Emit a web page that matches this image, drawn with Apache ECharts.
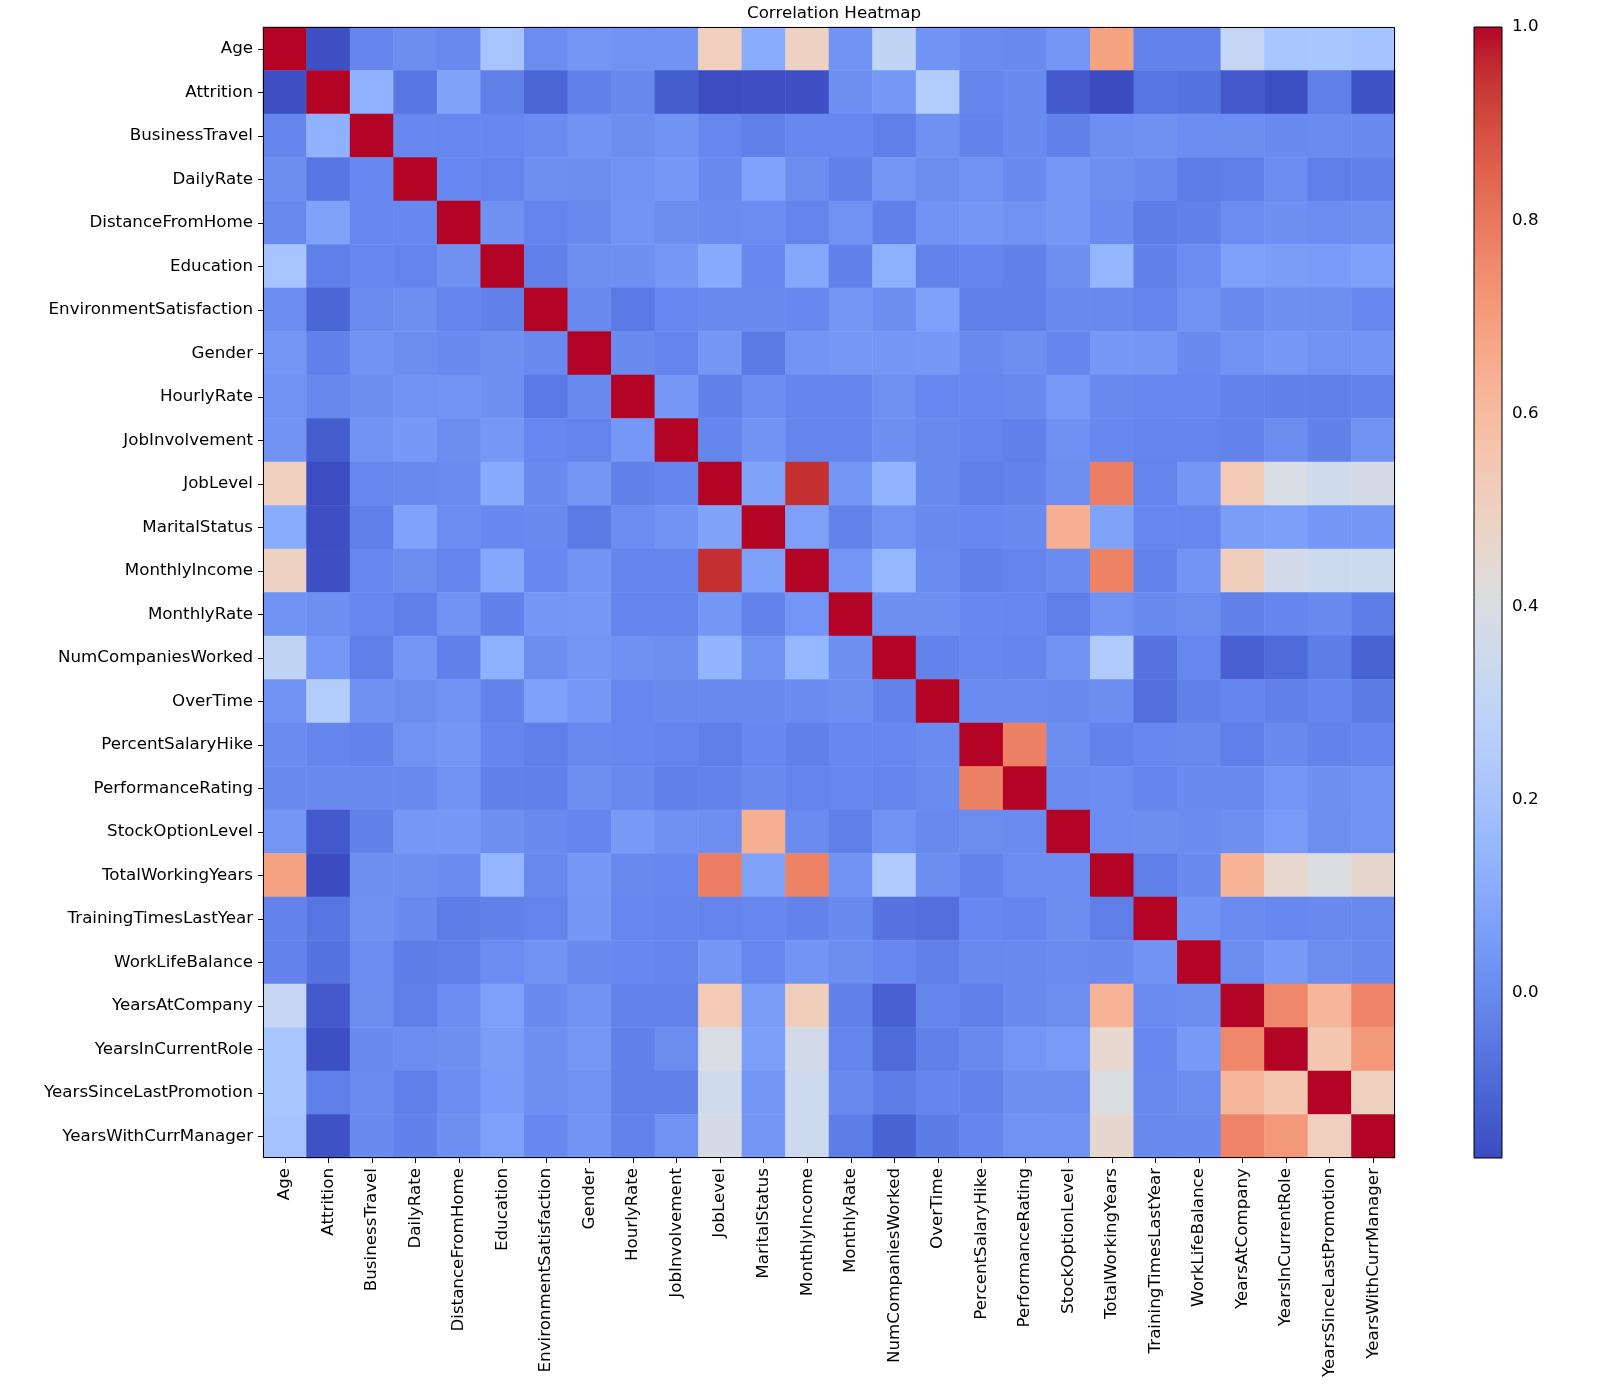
<!DOCTYPE html>
<html><head><meta charset="utf-8">
<script src="https://cdn.jsdelivr.net/npm/echarts@6/dist/echarts.min.js"></script>
<style>html,body{margin:0;padding:0;background:#fff}#chart{width:1608px;height:1396px}</style>
</head><body><div id="chart"></div>
<script>
// ---- data ----
const labels = ["Age","Attrition","BusinessTravel","DailyRate","DistanceFromHome","Education",
  "EnvironmentSatisfaction","Gender","HourlyRate","JobInvolvement","JobLevel","MaritalStatus",
  "MonthlyIncome","MonthlyRate","NumCompaniesWorked","OverTime","PercentSalaryHike",
  "PerformanceRating","StockOptionLevel","TotalWorkingYears","TrainingTimesLastYear",
  "WorkLifeBalance","YearsAtCompany","YearsInCurrentRole","YearsSinceLastPromotion","YearsWithCurrManager"];

// lower triangle of the correlation matrix (row i holds columns 0..i-1); diagonal is 1
const lowerTriangle = [
  [],
  [-0.159],
  [-0.011, 0.127],
  [0.011, -0.057, -0.005],
  [-0.002, 0.078, -0.009, -0.005],
  [0.208, -0.031, -0.008, -0.017, 0.021],
  [0.010, -0.103, 0.004, 0.018, -0.016, -0.027],
  [0.036, -0.029, 0.030, 0.011, 0.002, 0.017, 0.000],
  [0.024, -0.007, 0.012, 0.023, 0.031, 0.017, -0.050, 0.000],
  [0.030, -0.130, 0.030, 0.046, 0.009, 0.042, -0.008, -0.018, 0.043],
  [0.510, -0.169, -0.008, 0.003, 0.005, 0.102, 0.001, 0.040, -0.028, -0.013],
  [0.110, -0.162, -0.030, 0.075, 0.010, -0.005, 0.000, -0.047, 0.010, 0.030, 0.080],
  [0.498, -0.160, -0.010, 0.008, -0.017, 0.095, -0.006, 0.032, -0.016, -0.015, 0.950, 0.070],
  [0.028, 0.015, -0.010, -0.032, 0.027, -0.026, 0.038, 0.041, -0.015, -0.016, 0.040, -0.020, 0.035],
  [0.300, 0.043, -0.030, 0.038, -0.029, 0.126, 0.013, 0.039, 0.022, 0.015, 0.143, 0.025, 0.150, 0.018],
  [0.028, 0.246, 0.020, 0.009, 0.026, -0.020, 0.070, 0.042, -0.008, -0.004, 0.000, 0.000, 0.006, 0.017, -0.020],
  [0.004, -0.013, -0.020, 0.023, 0.040, -0.011, -0.032, -0.003, -0.009, -0.017, -0.035, -0.005, -0.027, -0.006, -0.010, 0.005],
  [0.002, 0.003, 0.000, 0.001, 0.027, -0.025, -0.030, 0.014, -0.002, -0.029, -0.021, 0.000, -0.017, -0.010, -0.014, 0.004, 0.774],
  [0.038, -0.137, -0.025, 0.042, 0.045, 0.018, 0.003, -0.012, 0.050, 0.022, 0.014, 0.640, 0.005, -0.034, 0.030, -0.001, 0.008, 0.004],
  [0.680, -0.171, 0.015, 0.015, 0.005, 0.148, -0.003, 0.047, -0.002, -0.006, 0.782, 0.080, 0.773, 0.026, 0.238, 0.013, -0.021, 0.007, 0.010],
  [-0.020, -0.059, 0.020, 0.003, -0.037, -0.025, -0.019, 0.038, -0.009, -0.015, -0.018, -0.010, -0.022, 0.002, -0.066, -0.079, -0.005, -0.016, 0.011, -0.036],
  [-0.021, -0.064, 0.010, -0.038, -0.027, 0.010, 0.028, 0.003, -0.005, -0.015, 0.038, -0.010, 0.031, 0.008, -0.008, -0.027, -0.003, 0.003, 0.004, 0.001, 0.028],
  [0.311, -0.134, 0.008, -0.034, 0.010, 0.069, 0.002, 0.030, -0.020, -0.021, 0.535, 0.060, 0.514, -0.024, -0.118, -0.012, -0.036, 0.003, 0.015, 0.628, 0.004, 0.012],
  [0.213, -0.161, 0.000, 0.010, 0.019, 0.060, 0.018, 0.041, -0.024, 0.009, 0.390, 0.065, 0.364, -0.013, -0.091, -0.029, -0.002, 0.035, 0.051, 0.460, -0.006, 0.050, 0.759],
  [0.217, -0.033, 0.005, -0.033, 0.010, 0.054, 0.016, 0.026, -0.027, -0.024, 0.354, 0.040, 0.345, 0.002, -0.037, -0.012, -0.022, 0.018, 0.014, 0.405, -0.002, 0.009, 0.618, 0.548],
  [0.202, -0.156, 0.000, -0.026, 0.014, 0.069, -0.005, 0.031, -0.020, 0.026, 0.375, 0.040, 0.344, -0.037, -0.110, -0.041, -0.012, 0.023, 0.025, 0.459, -0.004, 0.003, 0.769, 0.714, 0.510]
];

const colorbarTicks = [0.0, 0.2, 0.4, 0.6, 0.8, 1.0];
const colorMin = -0.1707;
const colorMax = 1.0;

// matplotlib "coolwarm" colormap, 33 evenly spaced stops
const coolwarm = ["#3b4cc0","#445acc","#4d68d7","#5775e1","#6282ea","#6c8ef1","#779af7","#82a5fb",
  "#8db0fe","#98b9ff","#a3c2ff","#aec9fd","#b8d0f9","#c2d5f4","#ccd9ee","#d5dbe6","#dddddd",
  "#e5d8d1","#ecd3c5","#f1ccb9","#f5c4ad","#f7bba0","#f7b194","#f7a687","#f49a7b","#f18d6f",
  "#ec7f63","#e57058","#de604d","#d55042","#cb3e38","#c0282f","#b40426"];

// ---- build ----
const n = labels.length;
const cells = [];
for (let i = 0; i < n; i++) {
  for (let j = 0; j < n; j++) {
    const v = i === j ? 1 : (i > j ? lowerTriangle[i][j] : lowerTriangle[j][i]);
    cells.push([j, i, v]);
  }
}
const gradStops = coolwarm.map((c, k) => ({ offset: 1 - k / (coolwarm.length - 1), color: c })).reverse();

const FONT = "DejaVu Sans";
const FS = 16.7;
const HM = { left: 263, top: 27, width: 1132, height: 1131 };
const CB = { left: 1474, top: 27, width: 28, height: 1131 };

const chart = echarts.init(document.getElementById('chart'), null, { renderer: 'canvas' });
chart.setOption({
  backgroundColor: '#fff',
  animation: false,
  title: {
    text: 'Correlation Heatmap',
    left: HM.left + HM.width / 2, top: 0, textAlign: 'center',
    textStyle: { fontFamily: FONT, fontSize: FS, fontWeight: 'normal', color: '#000' }
  },
  grid: [
    { left: HM.left, top: HM.top, width: HM.width, height: HM.height, containLabel: false },
    { left: CB.left, top: CB.top, width: CB.width, height: CB.height, containLabel: false }
  ],
  xAxis: [
    {
      type: 'category', data: labels, gridIndex: 0, position: 'bottom',
      axisLine: { show: false },
      axisTick: { show: true, alignWithLabel: true, length: 5, lineStyle: { color: '#000', width: 1 } },
      axisLabel: { rotate: 90, margin: 10, interval: 0, fontFamily: FONT, fontSize: FS, color: '#000' },
      splitLine: { show: false }, splitArea: { show: false }
    },
    { type: 'value', gridIndex: 1, min: 0, max: 1, show: false }
  ],
  yAxis: [
    {
      type: 'category', data: labels, gridIndex: 0, inverse: true,
      axisLine: { show: false },
      axisTick: { show: true, alignWithLabel: true, length: 5, lineStyle: { color: '#000', width: 1 } },
      axisLabel: { margin: 10, interval: 0, fontFamily: FONT, fontSize: FS, color: '#000' },
      splitLine: { show: false }, splitArea: { show: false }
    },
    {
      type: 'value', gridIndex: 1, min: colorMin, max: colorMax, position: 'right',
      axisLine: { show: false },
      axisTick: { show: true, customValues: colorbarTicks, length: 5, lineStyle: { color: '#000', width: 1 } },
      axisLabel: { show: true, customValues: colorbarTicks, margin: 10, fontFamily: FONT, fontSize: FS, color: '#000',
        formatter: v => Number(v).toFixed(1) },
      splitLine: { show: false }
    }
  ],
  visualMap: [{
    type: 'continuous', min: colorMin, max: colorMax, show: false, seriesIndex: 0,
    inRange: { color: coolwarm }
  }],
  series: [
    {
      type: 'heatmap', xAxisIndex: 0, yAxisIndex: 0, data: cells,
      itemStyle: { borderWidth: 0 }, emphasis: { disabled: true }, progressive: 0
    },
    {
      type: 'custom', xAxisIndex: 1, yAxisIndex: 1, data: [[0.5, 0]], silent: true,
      renderItem: function (params, api) {
        const cs = params.coordSys;
        return {
          type: 'rect',
          shape: { x: cs.x, y: cs.y, width: cs.width, height: cs.height },
          style: { fill: new echarts.graphic.LinearGradient(0, 0, 0, 1, gradStops), stroke: '#000', lineWidth: 1 }
        };
      }
    }
  ],
  graphic: [{
    type: 'rect', silent: true, z: 100,
    shape: { x: HM.left + 0.5, y: HM.top + 0.5, width: HM.width - 1, height: HM.height - 1 },
    style: { fill: 'rgba(0,0,0,0)', stroke: '#000', lineWidth: 1 }
  }]
});
</script>
</body></html>
